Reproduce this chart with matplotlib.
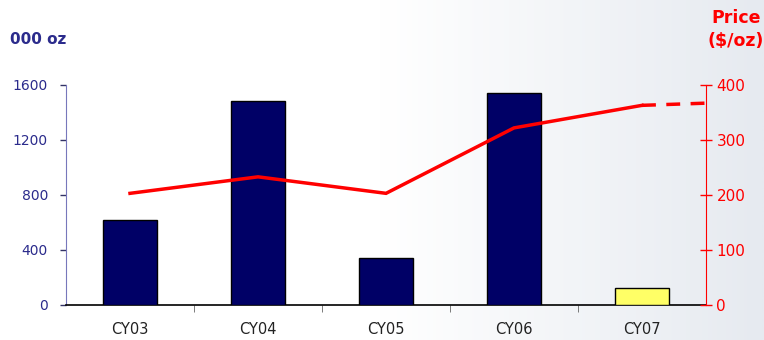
import numpy as np
import matplotlib
matplotlib.use("Agg")
import matplotlib.pyplot as plt
from matplotlib.colors import LinearSegmentedColormap

# data
CATEGORIES = ["CY03", "CY04", "CY05", "CY06", "CY07"]
PRODUCTION = [615, 1485, 340, 1540, 120]          # 000 oz
BAR_COLORS = ["#000066", "#000066", "#000066", "#000066", "#FFFF66"]
PRICE = [203, 233, 203, 322, 363]                 # $/oz
PRICE_FWD_X = [4, 4.5]
PRICE_FWD = [363, 367]

NAVY = "#2B2B8C"
RED = "#FF0000"

fig = plt.figure(figsize=(7.64, 3.40), dpi=100, facecolor="white")

# soft background gradient (white on the left, pale blue-grey to the right)
bg = fig.add_axes([0, 0, 1, 1], zorder=-10)
grad = np.linspace(0, 1, 256)
grad = np.clip((grad - 0.5) / 0.5, 0, 1)[None, :]
cmap = LinearSegmentedColormap.from_list("bgc", ["#FFFFFF", "#E6EAF0"])
bg.imshow(grad, aspect="auto", cmap=cmap, extent=[0, 1, 0, 1])
bg.axis("off")

ax = fig.add_axes([0.0864, 0.103, 0.8377, 0.647])
ax.patch.set_alpha(0)
x = np.arange(len(CATEGORIES))
ax.bar(x, PRODUCTION, width=0.42, color=BAR_COLORS, edgecolor="black",
       linewidth=1.0, zorder=3)
ax.set_xlim(-0.5, 4.5)
ax.set_ylim(0, 1600)
ax.set_yticks([0, 400, 800, 1200, 1600])
ax.tick_params(axis="y", colors=NAVY, labelsize=10, length=4, width=1,
               direction="out", pad=9)
ax.tick_params(axis="y", color="#333366")
ax.set_xticks(x)
ax.set_xticklabels(CATEGORIES, fontsize=10.5, color="#222222",
                   fontfamily="Liberation Sans Narrow")
ax.tick_params(axis="x", length=0, pad=12)
ax.set_xticks(np.arange(0.5, 4.5, 1.0), minor=True)
ax.tick_params(axis="x", which="minor", length=5, color="#666666", direction="out")
for side in ("top", "right"):
    ax.spines[side].set_visible(False)
ax.spines["left"].set_color("#7777BB")
ax.spines["bottom"].set_color("black")
ax.spines["bottom"].set_linewidth(1.2)

ax2 = ax.twinx()
ax2.plot(x, PRICE, color=RED, linewidth=2.5, zorder=4, solid_joinstyle="miter")
ax2.plot(PRICE_FWD_X, PRICE_FWD, color=RED, linewidth=2.5, linestyle=(0, (4, 3)),
         zorder=4)
ax2.set_ylim(0, 400)
ax2.set_yticks([0, 100, 200, 300, 400])
ax2.tick_params(axis="y", colors=RED, labelsize=11, length=8, width=1,
                direction="inout")
for side in ("top", "left", "bottom"):
    ax2.spines[side].set_visible(False)
ax2.spines["right"].set_color(RED)

fig.text(0.013, 0.885, "000 oz", fontsize=11, fontweight="bold", color=NAVY,
         ha="left", va="center")
fig.text(1.0, 0.913, "Price\n($/oz)", fontsize=12.5, fontweight="bold",
         color=RED, ha="right", va="center", linespacing=1.3,
         multialignment="center")

fig.savefig("out.png", dpi=100, facecolor="white")
